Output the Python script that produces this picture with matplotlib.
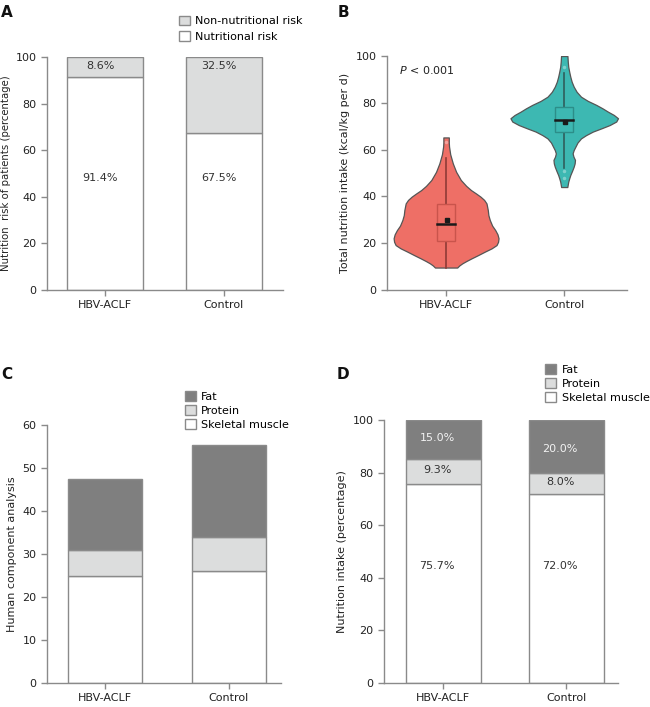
import matplotlib.pyplot as plt
from matplotlib.patches import Patch

# Data
groups = ['HBV-ACLF', 'Control']

# A: nutrition risk (%)
risk_yes = [91.4, 67.5]
risk_no = [8.6, 32.5]
risk_label_y = [48, 96]

# B: violin outlines (value, half width)
hbv_y = [65.2, 63.0, 61.3, 58.0, 54.1, 50.5, 47.0, 44.5, 42.7, 41.2, 39.9, 38.5, 37.0, 34.2, 32.0,
         29.9, 27.5, 25.6, 23.8, 22.1, 20.6, 19.2, 17.8, 16.4, 14.9, 13.5, 12.4, 11.4, 10.5, 9.6]
hbv_w = [0.023, 0.023, 0.025, 0.035, 0.057, 0.085, 0.125, 0.170, 0.211, 0.255, 0.291, 0.322, 0.342, 0.353, 0.358,
         0.370, 0.390, 0.416, 0.435, 0.444, 0.440, 0.427, 0.385, 0.328, 0.270, 0.214, 0.172, 0.137, 0.112, 0.094]
ctl_y = [100.0, 97.5, 95.4, 93.3, 91.2, 89.0, 86.9, 84.7, 82.6, 80.8, 79.1, 77.6, 76.2, 74.8, 73.4, 72.0, 70.5,
         69.1, 67.7, 66.2, 64.8, 63.0, 61.2, 59.8, 58.4, 57.0, 55.6, 54.1, 52.7, 50.9, 49.1, 47.7, 46.3, 44.0]
ctl_w = [0.027, 0.030, 0.034, 0.042, 0.051, 0.063, 0.080, 0.105, 0.142, 0.200, 0.271, 0.325, 0.370, 0.420, 0.455,
         0.440, 0.385, 0.315, 0.242, 0.185, 0.142, 0.112, 0.094, 0.080, 0.071, 0.078, 0.091, 0.088, 0.080, 0.066,
         0.051, 0.042, 0.034, 0.026]
# box stats: whisker low, q1, median, q3, whisker high, mean
hbv_box = [9.6, 20.9, 28.4, 36.7, 56.3, 29.9]
ctl_box = [52.0, 67.7, 72.6, 78.1, 92.9, 72.0]
hbv_out = [63.4]
ctl_out = [95.4, 50.9, 47.7]

# C: human component analysis
comp_muscle = [25.0, 26.0]
comp_protein = [6.0, 7.9]
comp_fat = [16.4, 21.5]

# D: nutrition intake (%)
intake_muscle = [75.7, 72.0]
intake_protein = [9.3, 8.0]
intake_fat = [15.0, 20.0]
intake_label_y = [[44.6, 81.0, 93.0], [44.6, 76.6, 88.9]]

white = '#FFFFFF'
light = '#DCDDDD'
dark = '#7F7F7F'
edge = '#8A8A8A'
txt = '#333333'
red = '#EE6F66'
teal = '#3DB8B2'

plt.rcParams['font.family'] = 'DejaVu Sans'
plt.rcParams['font.size'] = 8

fig = plt.figure(figsize=(6.5, 7.07), dpi=100)
axA = fig.add_axes([0.0723, 0.5898, 0.363, 0.3296])
axB = fig.add_axes([0.5954, 0.5898, 0.369, 0.331])
axC = fig.add_axes([0.0723, 0.0339, 0.360, 0.365])
axD = fig.add_axes([0.5908, 0.0339, 0.360, 0.372])


def style(ax):
    for s in ['top', 'right']:
        ax.spines[s].set_visible(False)
    for s in ['left', 'bottom']:
        ax.spines[s].set_color(edge)
        ax.spines[s].set_linewidth(1)
    ax.tick_params(colors=edge, labelcolor='#222222', labelsize=8, length=4, width=1)
    ax.set_xticks([0, 1])
    ax.set_xticklabels(groups)


x = [0, 1]

# A
style(axA)
axA.bar(x, risk_yes, width=0.64, color=white, edgecolor=edge, linewidth=1)
axA.bar(x, risk_no, bottom=risk_yes, width=0.64, color=light, edgecolor=edge, linewidth=1)
for i in range(2):
    axA.text(x[i] - 0.04, risk_label_y[0], f'{risk_yes[i]}%', ha='center', va='center', color=txt, fontsize=8)
    axA.text(x[i] - 0.04, risk_label_y[1], f'{risk_no[i]}%', ha='center', va='center', color=txt, fontsize=8)
axA.set_xlim(-0.487, 1.496)
axA.set_ylim(0, 100)
axA.set_yticks([0, 20, 40, 60, 80, 100])
axA.set_ylabel('Nutrition  risk of patients (percentage)', fontsize=7.3, color='#222222', labelpad=3)
axA.legend(handles=[Patch(facecolor=light, edgecolor=edge, label='Non-nutritional risk'),
                    Patch(facecolor=white, edgecolor=edge, label='Nutritional risk')],
           loc='upper left', bbox_to_anchor=(0.275, 0.978), bbox_transform=fig.transFigure,
           frameon=False, fontsize=8, handlelength=1.0, handleheight=1.0,
           labelspacing=0.4, borderpad=0, borderaxespad=0, handletextpad=0.5)

# B
style(axB)
for xi, ys, ws, bx, outs, col, ecol, wcol in [
        (0, hbv_y, hbv_w, hbv_box, hbv_out, red, '#C9544C', '#8E3B36'),
        (1, ctl_y, ctl_w, ctl_box, ctl_out, teal, '#2C8E89', '#2F5F5C')]:
    left = [xi - w for w in ws]
    right = [xi + w for w in ws]
    axB.fill_betweenx(ys, left, right, facecolor=col, edgecolor='#555555', linewidth=0.9, zorder=2)
    axB.plot([xi, xi], [bx[0], bx[4]], color=wcol, lw=1.2, zorder=3)
    axB.add_patch(plt.Rectangle((xi - 0.075, bx[1]), 0.15, bx[3] - bx[1],
                                facecolor=col, edgecolor=ecol, lw=1, zorder=4))
    axB.plot([xi - 0.075, xi + 0.075], [bx[2], bx[2]], color='#1A1A1A', lw=1.8, zorder=5)
    axB.plot([xi + 0.01], [bx[5]], 's', color='#1A1A1A', ms=2.2, zorder=6)
    axB.plot([xi] * len(outs), outs, 'o', color='white', alpha=0.35, ms=2.5, mec='none', zorder=6)
axB.set_xlim(-0.5, 1.53)
axB.set_ylim(0, 100)
axB.set_yticks([0, 20, 40, 60, 80, 100])
axB.set_ylabel('Total nutrition intake (kcal/kg per d)', fontsize=8, color='#222222')
axB.text(0.05, 0.925, '$P$ < 0.001', transform=axB.transAxes, fontsize=8, color='#222222')

# C
style(axC)
bot2 = [comp_muscle[i] + comp_protein[i] for i in range(2)]
axC.bar(x, comp_muscle, width=0.6, color=white, edgecolor=edge, linewidth=1)
axC.bar(x, comp_protein, bottom=comp_muscle, width=0.6, color=light, edgecolor=edge, linewidth=1)
axC.bar(x, comp_fat, bottom=bot2, width=0.6, color=dark, edgecolor=edge, linewidth=1)
axC.set_xlim(-0.468, 1.42)
axC.set_ylim(0, 60)
axC.set_yticks([0, 10, 20, 30, 40, 50, 60])
axC.set_ylabel('Human component analysis', fontsize=8, color='#222222')

leg3 = [Patch(facecolor=dark, edgecolor=edge, label='Fat'),
        Patch(facecolor=light, edgecolor=edge, label='Protein'),
        Patch(facecolor=white, edgecolor=edge, label='Skeletal muscle')]
axC.legend(handles=leg3, loc='upper left', bbox_to_anchor=(0.284, 1 - 391 / 707),
           bbox_transform=fig.transFigure, frameon=False, fontsize=8, handlelength=1.0,
           handleheight=1.0, labelspacing=0.3, borderpad=0, borderaxespad=0, handletextpad=0.5)

# D
style(axD)
bot2 = [intake_muscle[i] + intake_protein[i] for i in range(2)]
axD.bar(x, intake_muscle, width=0.61, color=white, edgecolor=edge, linewidth=1)
axD.bar(x, intake_protein, bottom=intake_muscle, width=0.61, color=light, edgecolor=edge, linewidth=1)
axD.bar(x, intake_fat, bottom=bot2, width=0.61, color=dark, edgecolor=edge, linewidth=1)
for i in range(2):
    vals = [intake_muscle[i], intake_protein[i], intake_fat[i]]
    cols = [txt, txt, '#F2F2F2']
    for v, yy, c in zip(vals, intake_label_y[i], cols):
        axD.text(x[i] - 0.05, yy, f'{v:.1f}%', ha='center', va='center', color=c, fontsize=8)
axD.set_xlim(-0.48, 1.42)
axD.set_ylim(0, 100)
axD.set_yticks([0, 20, 40, 60, 80, 100])
axD.set_ylabel('Nutrition intake (percentage)', fontsize=8, color='#222222')
axD.legend(handles=leg3, loc='upper left', bbox_to_anchor=(0.839, 1 - 364 / 707),
           bbox_transform=fig.transFigure, frameon=False, fontsize=8, handlelength=1.0,
           handleheight=1.0, labelspacing=0.3, borderpad=0, borderaxespad=0, handletextpad=0.5)

# panel letters
for lab, xx, yy in [('A', 0.002, 0.993), ('B', 0.52, 0.993), ('C', 0.002, 0.481), ('D', 0.518, 0.481)]:
    fig.text(xx, yy, lab, fontsize=11, fontweight='bold', va='top', ha='left', color='#111111')

fig.savefig('out.png', dpi=100)
